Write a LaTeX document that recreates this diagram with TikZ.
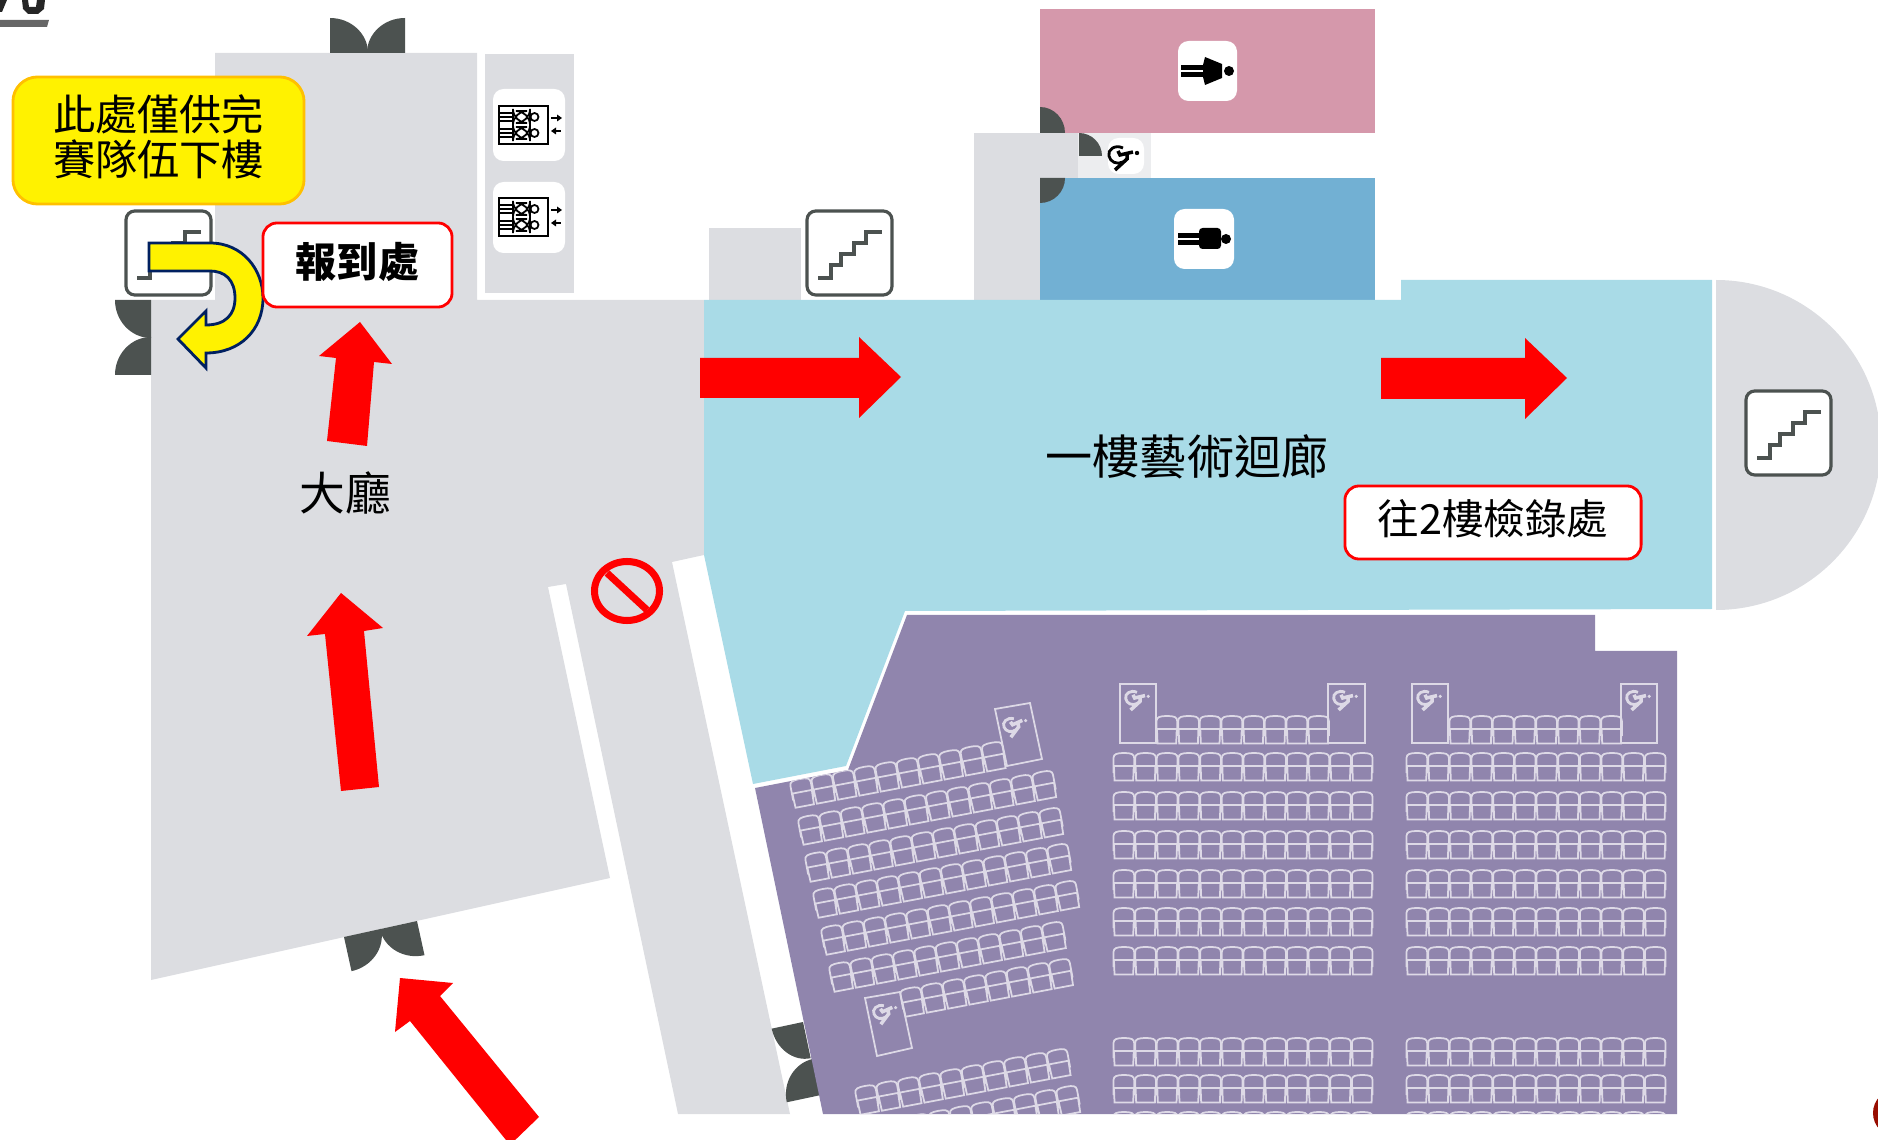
\documentclass[tikz,border=0pt]{standalone}
\usepackage{fontspec}
\setmainfont{Noto Sans CJK TC}

\definecolor{hall}{HTML}{DCDDE1}
\definecolor{hallb}{HTML}{ECEDEF}
\definecolor{doorc}{HTML}{4C5250}
\definecolor{pinkc}{HTML}{D598AB}
\definecolor{bluec}{HTML}{72B0D3}
\definecolor{galc}{HTML}{A9DBE7}
\definecolor{seatc}{HTML}{9085AD}
\definecolor{seatl}{HTML}{DDD9E6}
\definecolor{navy}{HTML}{002060}
\definecolor{gold}{HTML}{FFC000}

\tikzstyle{card}=[fill=white,rounded corners=3pt]
\tikzstyle{door}=[fill=doorc]
\tikzstyle{ra}=[fill=red]
\tikzstyle{rb}=[draw=red,fill=white,line width=0.8pt,rounded corners=4pt,inner sep=0pt,align=center]
\tikzstyle{lbl}=[inner sep=0pt,align=center]
\tikzstyle{st}=[draw=seatl,line width=0.5pt]

% corner x, corner y, rotation, two radii
\newcommand{\leaf}[5]{\fill[door,shift={(#1,#2)},rotate=#3] (#4,0) arc (0:90:#4 and #5) -- (0,0) -- cycle;}
\newcommand{\seatrow}[4]{\begin{scope}[shift={(#1,#2)},rotate=#4]
  \foreach \i in {1,...,#3} {\pic[transform shape] at ({21.67*(\i-1)},0) {seat};}
\end{scope}}
\newcommand{\stairs}[2]{\begin{scope}[shift={(#1,#2)}]
  \draw[draw=doorc,fill=white,line width=0.9pt,rounded corners=2.5pt] (1,1) rectangle (86,85);
  \draw[doorc,line width=1.1pt] (12,68) -| (25,55) -| (35,44) -| (48,33) -| (60,22) -- (76,22);
\end{scope}}
\newcommand{\wbox}[4]{\draw[st] (#1) -- (#2) -- (#3) -- (#4) -- cycle;}
\newcommand{\upt}[1]{\raisebox{1pt}[\height][\depth]{#1}}

\tikzset{
  seat/.pic={
    \draw[st] (0.5,20) -- (0.5,5) .. controls (0.5,1) and (4,0) .. (11,0) .. controls (18,0) and (21.2,1) .. (21.2,5) -- (21.2,20) (1,13) -- (21,13) (1,14) -- (1.5,27.5) -- (20.2,27.5) -- (20.7,14);
  },
  wchair/.pic={
    \draw[#1,line width=0.8pt] (5,-7) .. controls (-3,-11) and (-11,-5) .. (-9,1) .. controls (-8,7) and (-1,10) .. (5,7);
    \draw[#1,line width=1pt] (0,-4) -- (2,0) -- (15,-3) (9,-1) -- (9,4) -- (-3,15);
    \fill[#1] (19,-2) circle (2.2);
  },
  man/.pic={
    \fill (0,0) circle (5);
    \fill[rounded corners=1pt] (-5,-11) rectangle (-27,10);
    \fill (-27,-6) rectangle (-48,-1);
    \fill (-27,1) rectangle (-48,6);
  },
  woman/.pic={
    \fill (0,0) circle (5);
    \fill (-7,-7) -- (-24,-14) -- (-26,-6) -- (-26,6) -- (-24,14) -- (-7,7) -- cycle;
    \fill (-26,-6) rectangle (-48,-1);
    \fill (-26,1) rectangle (-48,6);
  },
  lift/.pic={
    \draw[line width=0.8pt] (0,0) rectangle (49,38);
    \foreach \y in {11,27} {
      \draw[line width=0.4pt] (0,\y-4) -- (15,\y-4) (0,\y) -- (15,\y) (0,\y+4) -- (15,\y+4);
      \draw[line width=0.5pt,fill=white,rounded corners=4pt] (14,\y-6) rectangle (31,\y+6);
      \draw[line width=0.5pt,fill=white] (35.5,\y) circle (4);
    }
    \draw[line width=0.7pt] (52,12) -- (60,12);
    \fill (63,12) -- (58,8.5) -- (58,15.5) -- cycle;
    \draw[line width=0.7pt] (55,25) -- (62,25);
    \fill (52,25) -- (57,21.5) -- (57,28.5) -- cycle;
  }
}

\begin{document}
\begin{tikzpicture}[x=0.01cm,y=-0.01cm]
%\draw[help lines] (0,0) grid (1878,1140);
\useasboundingbox (0,0) rectangle (1878,1140);

% logo scraps and the corner stamp
\fill[black!85] (0,0) -- (7,0) -- (2,12) -- (0,12) -- cycle;
\fill[black!85] (22,0) -- (28,0) -- (29,7) -- (36,7) -- (37,0) -- (45,0) -- (44,9) -- (38,14) -- (28,14) -- (23,9) -- cycle;
\fill[black!60] (0,20) -- (49,20) -- (47,27) -- (0,27) -- cycle;
\fill[red!55!black!90!orange] (1897,1113) circle (24);

% rooms
\fill[hall] (215,53) -- (477,53) -- (477,300) -- (704,300) -- (704,555) -- (672,562) -- (790,1114) -- (678,1114) -- (566,584) -- (548,587) -- (610,878) -- (151,980) -- (151,300) -- (215,300) -- cycle;
\fill[hall] (485,54) rectangle (574,293);
\fill[hall] (709,228) rectangle (801,300);
\fill[hall] (974,133) rectangle (1040,300);
\fill[hall] (1040,133) rectangle (1078,178);
\fill[hallb] (1078,133) rectangle (1151,178);
\fill[pinkc] (1040,9) rectangle (1375,133);
\fill[bluec] (1040,178) rectangle (1375,300);
\fill[hall] (1716,280) arc (-90:90:165) -- cycle;
\fill[galc] (704,300) -- (1401,300) -- (1401,280) -- (1712,280) -- (1712,609) -- (905,611) -- (846,766) -- (753,784) -- (704,555) -- cycle;

% doors
\leaf{330}{53}{90}{35}{38}
\leaf{405}{53}{180}{38}{35}
\leaf{151}{300}{-90}{38}{36}
\leaf{151}{375}{180}{36}{38}
\leaf{344}{937}{12.4}{38}{35}
\leaf{417}{921}{-77.6}{35}{38}
\leaf{803}{1022}{-78}{37}{32}
\leaf{821}{1095}{192}{35}{37}
\leaf{1040}{133}{90}{26}{25}
\leaf{1040}{178}{0}{25}{25}
\leaf{1079}{156}{90}{23}{23}

% seating
\fill[seatc] (755,788) -- (848,770) -- (907,615) -- (1595,615) -- (1595,651) -- (1677,651) -- (1677,1114) -- (823,1114) -- cycle;
\begin{scope}
\clip (755,788) -- (848,770) -- (907,615) -- (1595,615) -- (1595,651) -- (1677,651) -- (1677,1114) -- (823,1114) -- cycle;
\seatrow{789}{781}{10}{10.7}
\seatrow{797}{818}{12}{10.7}
\seatrow{804}{855}{12}{10.7}
\seatrow{812}{891}{12}{10.7}
\seatrow{820}{928}{12}{10.7}
\seatrow{828}{965}{11}{10.7}
\seatrow{899}{990}{8}{10.7}
\seatrow{854}{1088}{10}{10.7}
\seatrow{821}{1133}{12}{10.7}
\foreach \bx in {1113,1406} {
  \foreach \ry in {753,792,831,870,908,947,1038,1075,1112} {\seatrow{\bx}{\ry}{12}{0}}
  \seatrow{\bx+43}{716}{8}{0}
}
\end{scope}
\wbox{995,709}{1030,703}{1042,759}{1007,766}
\wbox{865,998}{900,992}{912,1048}{877,1056}
\wbox{1120,684}{1156,684}{1156,743}{1120,743}
\wbox{1328,684}{1365,684}{1365,743}{1328,743}
\wbox{1412,684}{1448,684}{1448,743}{1412,743}
\wbox{1621,684}{1657,684}{1657,743}{1621,743}
\foreach \wx/\wy/\wa in {1133/698/0,1341/698/0,1425/698/0,1634/698/0,1011/725/10.7,881/1012/10.7}
  {\pic[rotate=\wa,scale=0.8,transform shape] at (\wx,\wy) {wchair=seatl};}

% cards and icons
\fill[card] (493,89) rectangle (565,161);
\fill[card] (493,182) rectangle (565,253);
\pic at (499,106) {lift};
\pic at (499,198) {lift};
\fill[card] (1178,41) rectangle (1237,101);
\fill[card] (1174,209) rectangle (1234,269);
\pic at (1229,71) {woman};
\pic at (1226,239) {man};
\fill[card] (1108,138) rectangle (1144,174);
\pic at (1118,155) {wchair=black};
\stairs{125}{210}
\stairs{806}{210}
\stairs{1745}{390}

% no entry
\draw[red,line width=2pt] (627,591) ellipse (32.5 and 29.5);
\draw[red,line width=2pt] (607,573) -- (647,610);

% red arrows
\fill[ra] (360,322) -- (392,364) -- (374,362) -- (367,446) -- (327,441) -- (336,358) -- (319,356) -- cycle;
\fill[ra] (341,593) -- (383,628) -- (364,631) -- (379,787) -- (341,791) -- (325,634) -- (307,636) -- cycle;
\fill[ra] (700,358) -- (859,358) -- (859,337) -- (901,377) -- (859,418) -- (859,398) -- (700,398) -- cycle;
\fill[ra] (1381,358) -- (1525,358) -- (1525,338) -- (1567,378) -- (1525,419) -- (1525,399) -- (1381,399) -- cycle;
\fill[ra] (400,978) -- (453,983) -- (440,996) -- (539,1117) -- (510,1145) -- (410,1021) -- (395,1032) -- cycle;

% u-turn arrow
\draw[navy,fill=yellow,line width=0.8pt] (149,243) -- (210,243) .. controls (243,243) and (263,270) .. (263,298) .. controls (263,330) and (240,353) .. (206,353) -- (206,368) -- (178,339) -- (206,311) -- (206,325) .. controls (225,325) and (235,315) .. (235,298) .. controls (235,280) and (225,271) .. (210,271) -- (149,271) -- cycle;

% labels
\node[draw=gold,fill=yellow,line width=0.8pt,rounded corners=7pt,inner sep=0pt,align=center,minimum width=2.91cm,minimum height=1.27cm,font=\fontsize{12}{12.8}\selectfont] (notice) at (158.5,140.5) {\upt{此處僅供完}\\\upt{賽隊伍下樓}};
\node[rb,minimum width=1.89cm,minimum height=0.84cm,font=\fontsize{11.7}{13}\selectfont\bfseries] (checkin) at (357.5,265) {\upt{報到處}};
\node[rb,minimum width=2.96cm,minimum height=0.73cm,font=\fontsize{11.8}{13}\selectfont] (record) at (1493,522.5) {\upt{往2樓檢錄處}};
\node[lbl,font=\fontsize{13}{15}\selectfont] (lobby) at (345,493) {大廳};
\node[lbl,font=\fontsize{13.4}{15}\selectfont] (gallery) at (1187,457) {一樓藝術迴廊};
\end{tikzpicture}
\end{document}
